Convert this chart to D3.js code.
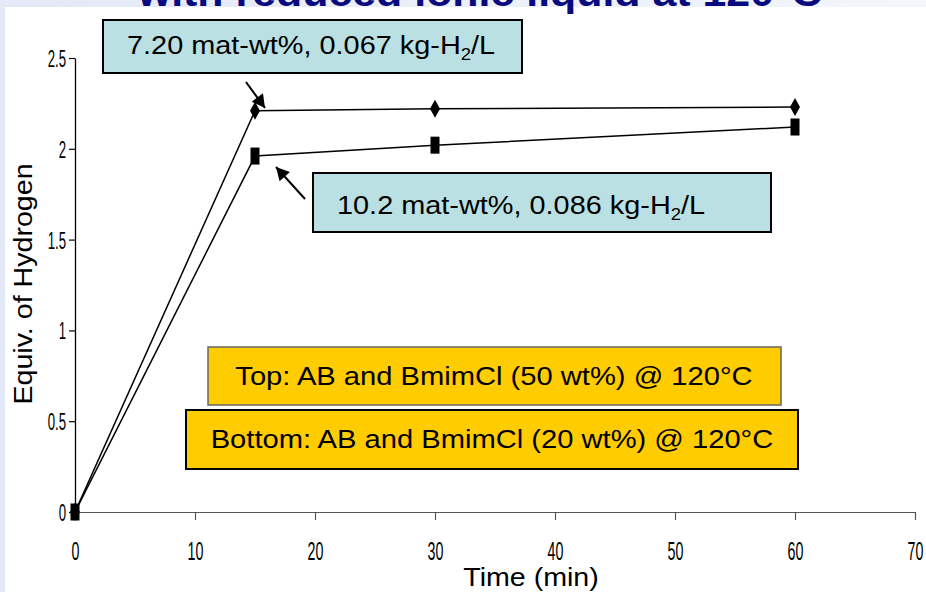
<!DOCTYPE html>
<html><head><meta charset="utf-8">
<script src="https://cdn.jsdelivr.net/npm/d3@7"></script>
<style>body{margin:0;background:#fff} svg{display:block}</style>
</head><body><svg id="c" width="926" height="592"></svg>
<script>
const timeMin = [0, 15, 30, 60];
const topSeries = [0, 2.21, 2.22, 2.23];
const bottomSeries = [0, 1.96, 2.02, 2.12];
const xTicks = [0, 10, 20, 30, 40, 50, 60, 70];
const yTicks = [0, 0.5, 1, 1.5, 2, 2.5];
const yTickLabels = ["0", "0.5", "1", "1.5", "2", "2.5"];
const titleText = "with reduced ionic liquid at 120°C";
const xTitle = "Time (min)";
const yTitle = "Equiv. of Hydrogen";
const calloutTop = ["7.20 mat-wt%, 0.067 kg-H", "2", "/L"];
const calloutBottom = ["10.2 mat-wt%, 0.086 kg-H", "2", "/L"];
const noteTop = "Top: AB and BmimCl (50 wt%) @ 120°C";
const noteBottom = "Bottom: AB and BmimCl (20 wt%) @ 120°C";

const svg = d3.select("#c");
const FONT = "Liberation Sans, Arial, Helvetica, sans-serif";

// slide background
const grad = svg.append("defs").append("linearGradient").attr("id","bg").attr("x1",0).attr("x2",1).attr("y1",0).attr("y2",0);
grad.append("stop").attr("offset",0).attr("stop-color","#e3e9f6");
grad.append("stop").attr("offset",1).attr("stop-color","#f3f6fc");
svg.append("rect").attr("width",926).attr("height",592).attr("fill","url(#bg)");
svg.append("rect").attr("x",5).attr("y",7).attr("width",921).attr("height",585).attr("fill","#fff");

// title (clipped at the top)
svg.append("g").attr("transform","translate(480,6) scale(1.1,1)")
  .append("text").attr("text-anchor","middle").attr("font-family",FONT)
  .attr("font-weight","bold").attr("font-size",39).attr("fill","#0a0a80").text(titleText);

const x = d3.scaleLinear().domain([0,70]).range([75,915]);
const y = d3.scaleLinear().domain([0,2.5]).range([512,58]);

// axes
const gx = svg.append("g").attr("transform","translate(0,512)")
  .call(d3.axisBottom(x).tickValues(xTicks).tickSize(8).tickSizeOuter(0).tickFormat(d3.format("d")));
gx.select(".domain").attr("stroke","#555").attr("stroke-width",1.2);
gx.selectAll(".tick line").attr("stroke","#555").attr("stroke-width",1.2);
gx.selectAll(".tick text").attr("y",null).attr("dy",null)
  .attr("font-family",FONT).attr("font-size",25).attr("fill","#000")
  .attr("transform","translate(0,48) scale(0.57,1)");

const gy = svg.append("g").attr("transform","translate(75,0)")
  .call(d3.axisLeft(y).tickValues(yTicks).tickSize(6).tickSizeOuter(0).tickFormat((d,i)=>yTickLabels[i]));
gy.select(".domain").attr("stroke","#000").attr("stroke-width",1.3);
gy.selectAll(".tick line").attr("stroke","#000").attr("stroke-width",1.2);
gy.selectAll(".tick text").attr("x",null).attr("dy","0.35em")
  .attr("font-family",FONT).attr("font-size",24).attr("fill","#000")
  .attr("transform","translate(-9,0) scale(0.55,1)");

// axis titles
svg.append("g").attr("transform","translate(531,586) scale(1.1,1)")
  .append("text").attr("text-anchor","middle").attr("font-family",FONT).attr("font-size",26).text(xTitle);
svg.append("g").attr("transform","translate(32,284) rotate(-90) scale(1.1,1)")
  .append("text").attr("text-anchor","middle").attr("font-family",FONT).attr("font-size",26).text(yTitle);

// series
const line = d3.line().x((d,i)=>x(timeMin[i])).y(d=>y(d));
[topSeries, bottomSeries].forEach(s=>{
  svg.append("path").attr("d",line(s)).attr("fill","none").attr("stroke","#000").attr("stroke-width",1.5);
});
svg.selectAll(".sq").data(bottomSeries).join("rect")
  .attr("x",(d,i)=>x(timeMin[i])-4.5).attr("y",d=>y(d)-8.5).attr("width",9).attr("height",17).attr("fill","#000");
svg.selectAll(".dm").data(topSeries).join("path")
  .attr("d",(d,i)=>{const cx=x(timeMin[i]), cy=y(d); return `M${cx},${cy-9}L${cx+5},${cy}L${cx},${cy+9}L${cx-5},${cy}Z`;})
  .attr("fill","#000");

// callouts
function box(x0,y0,w,h,fill,stroke,sw){
  svg.append("rect").attr("x",x0).attr("y",y0).attr("width",w).attr("height",h)
    .attr("fill",fill).attr("stroke",stroke).attr("stroke-width",sw);
}
function subText(tx,ty,parts){
  const t = svg.append("g").attr("transform",`translate(${tx},${ty}) scale(1.09,1)`)
    .append("text").attr("font-family",FONT).attr("font-size",26.5).attr("fill","#000");
  t.append("tspan").text(parts[0]);
  t.append("tspan").attr("font-size",17).attr("dy",6).text(parts[1]);
  t.append("tspan").attr("dy",-6).text(parts[2]);
}
function plainText(cx,ty,s){
  svg.append("g").attr("transform",`translate(${cx},${ty}) scale(1.1,1)`)
    .append("text").attr("text-anchor","middle").attr("font-family",FONT).attr("font-size",26.5).attr("fill","#000").text(s);
}
function arrow(x1,y1,x2,y2){
  svg.append("line").attr("x1",x1).attr("y1",y1).attr("x2",x2).attr("y2",y2).attr("stroke","#000").attr("stroke-width",2);
  const a=Math.atan2(y2-y1,x2-x1), L=13, W=7;
  const bx=x2-L*Math.cos(a), by=y2-L*Math.sin(a);
  const px=-Math.sin(a)*W, py=Math.cos(a)*W;
  svg.append("path").attr("d",`M${x2},${y2}L${bx+px},${by+py}L${bx-px},${by-py}Z`).attr("fill","#000");
}

box(103,20,419,53,"#bbe0e3","#000",2);
subText(127,54,calloutTop);
arrow(246,82,265,108);

box(313,173,458,59,"#bbe0e3","#000",2);
subText(337,214,calloutBottom);
arrow(305,199,276,167);

box(208,347,573,58,"#ffcc00","#666",1.5);
plainText(494,385,noteTop);
box(186,410,612,59,"#ffcc00","#000",2);
plainText(492,448,noteBottom);
</script></body></html>
